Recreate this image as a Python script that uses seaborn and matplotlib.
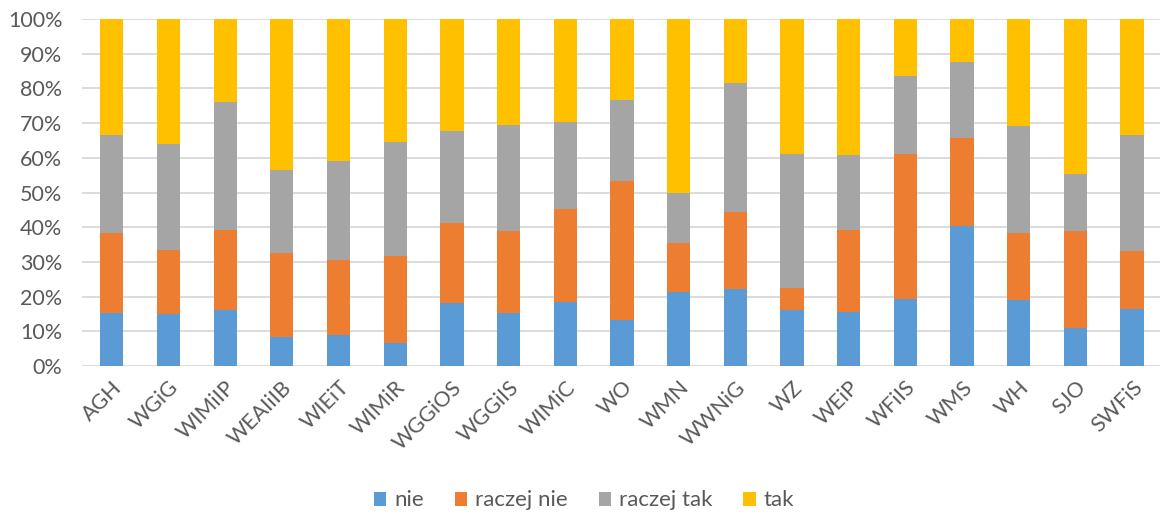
import pandas as pd
import numpy as np
import matplotlib
matplotlib.use("Agg")
import matplotlib.pyplot as plt
import seaborn as sns
from matplotlib.patches import Patch
from matplotlib.ticker import PercentFormatter

# faculties (categories)
wydzialy = ["AGH", "WGiG", "WIMiIP", "WEAIiIB", "WIEiT", "WIMiR", "WGGiOS", "WGGiIS",
            "WIMiC", "WO", "WMN", "WWNiG", "WZ", "WEiP", "WFiIS", "WMS", "WH", "SJO", "SWFiS"]

# answer shares in %
nie = [15.2, 15.1, 16.3, 8.5, 8.9, 6.7, 18.3, 15.2, 18.6, 13.2, 21.3, 22.1, 16.3, 15.7, 19.3, 40.5, 19.2, 11.0, 16.5]
raczej_nie = [23.3, 18.5, 22.9, 24.2, 21.8, 25.1, 23.0, 23.8, 26.7, 40.1, 14.3, 22.4, 6.1, 23.6, 41.9, 25.2, 19.2, 27.8, 16.8]
raczej_tak = [28.1, 30.3, 36.8, 23.9, 28.4, 32.8, 26.5, 30.5, 25.1, 23.5, 14.4, 37.1, 38.8, 21.4, 22.5, 21.8, 30.9, 16.7, 33.4]
tak = [100 - a - b - c for a, b, c in zip(nie, raczej_nie, raczej_tak)]

series = ["nie", "raczej nie", "raczej tak", "tak"]
colors = ["#5B9BD5", "#ED7D31", "#A5A5A5", "#FFC000"]

df = pd.DataFrame({"wydzial": wydzialy, "nie": nie, "raczej nie": raczej_nie,
                   "raczej tak": raczej_tak, "tak": tak})

sns.set_style("white")
plt.rcParams["font.family"] = ["Lato", "DejaVu Sans"]

fig, ax = plt.subplots(figsize=(11.68, 5.15), dpi=100)
fig.subplots_adjust(left=0.070, right=0.993, top=0.963, bottom=0.289)

# stacked bars: draw cumulative totals from top series down
cum = df[series].cumsum(axis=1)
for s, c in reversed(list(zip(series, colors))):
    sns.barplot(x=df["wydzial"], y=cum[s], color=c, width=0.41, ax=ax,
                linewidth=0, saturation=1, zorder=3)

ax.set_ylim(0, 100)
ax.set_xlim(-0.53, 18.49)
ax.yaxis.set_major_locator(plt.MultipleLocator(10))
ax.yaxis.set_major_formatter(PercentFormatter(decimals=0))
ax.grid(axis="y", color="#D9D9D9", linewidth=1.3, zorder=0)
ax.set_axisbelow(True)
for sp in ax.spines.values():
    sp.set_visible(False)
ax.set_xlabel("")
ax.set_ylabel("")
ax.tick_params(axis="y", length=0, labelsize=15.5, colors="#595959", pad=14)
ax.tick_params(axis="x", length=0, labelsize=15.5, colors="#595959", pad=8)
plt.setp(ax.get_xticklabels(), rotation=45, ha="right", rotation_mode="anchor")

handles = [Patch(facecolor=c, edgecolor="none") for c in colors]
fig.legend(handles, series, loc="lower center", bbox_to_anchor=(0.5, -0.03), ncol=4,
           frameon=False, fontsize=16, handlelength=0.55, handleheight=0.6,
           handletextpad=0.35, columnspacing=1.4, labelcolor="#595959")

plt.savefig("out.png", dpi=100)
plt.close()
